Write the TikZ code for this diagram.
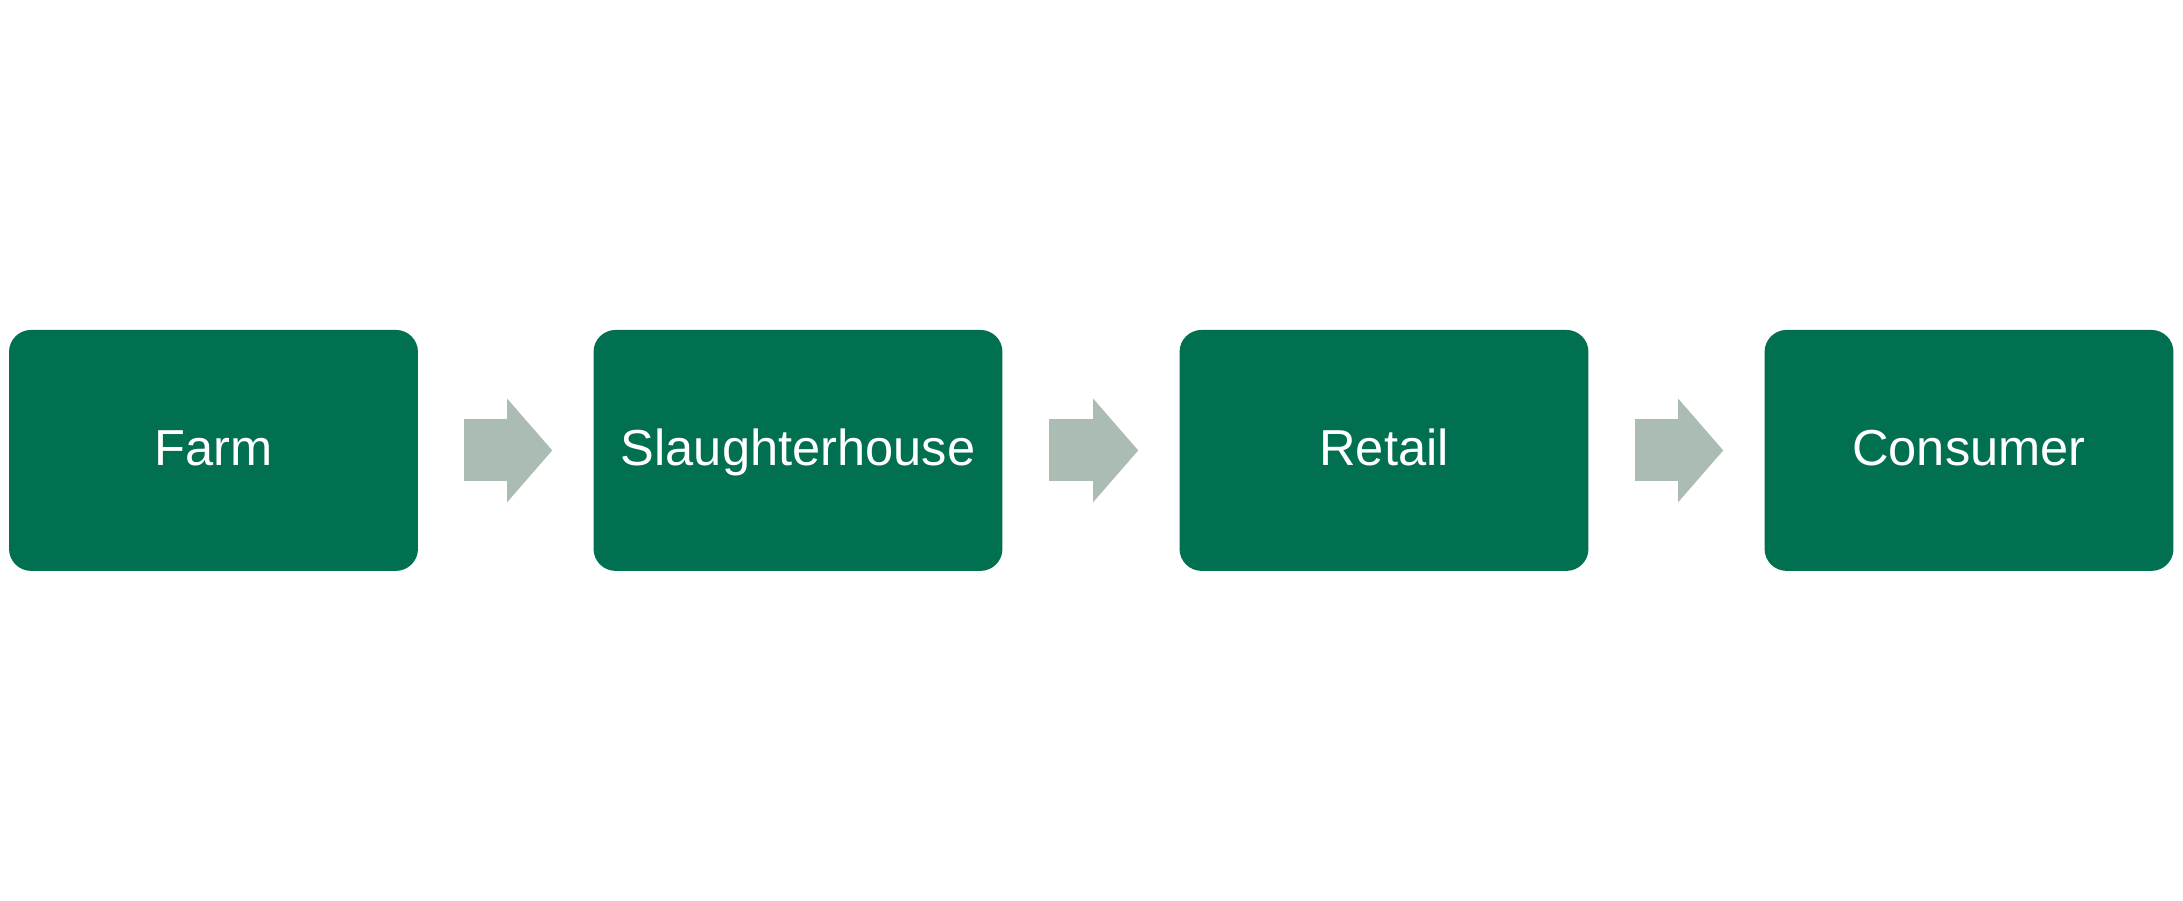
\documentclass[tikz,border=0pt]{standalone}
\usepackage{fontspec}
\setmainfont{Liberation Sans}
\usetikzlibrary{arrows.meta}

\definecolor{stagegreen}{RGB}{0,112,81}
\definecolor{flowgrey}{RGB}{171,188,179}

\tikzset{
  stage/.style={rectangle, rounded corners=0.44cm, fill=stagegreen, text=white,
    minimum width=8.18cm, minimum height=4.82cm, inner sep=0pt,
    font=\fontsize{28.8}{34}\selectfont, text height=0.8cm, text depth=0.216cm},
  flow/.style={draw=flowgrey, line width=1.24cm,
    -{Triangle[length=0.9cm, width=2.07cm, line width=0pt, fill=flowgrey]},
    shorten <=0.92cm, shorten >=0.82cm}
}

\begin{document}
\begin{tikzpicture}[x=0.02cm, y=-0.02cm]
\useasboundingbox (0,0) rectangle (2183,900);

\node (farm) at (213.5,450.4) [stage] {Farm};
\node (slaughter) at (798,450.4) [stage] {Slaughterhouse};
\node (retail) at (1384,450.4) [stage] {Retail};
\node (consumer) at (1969,450.4) [stage] {Consumer};

% chain arrows
\draw[flow] (farm) -- (slaughter);
\draw[flow] (slaughter) -- (retail);
\draw[flow] (retail) -- (consumer);

\end{tikzpicture}
\end{document}
